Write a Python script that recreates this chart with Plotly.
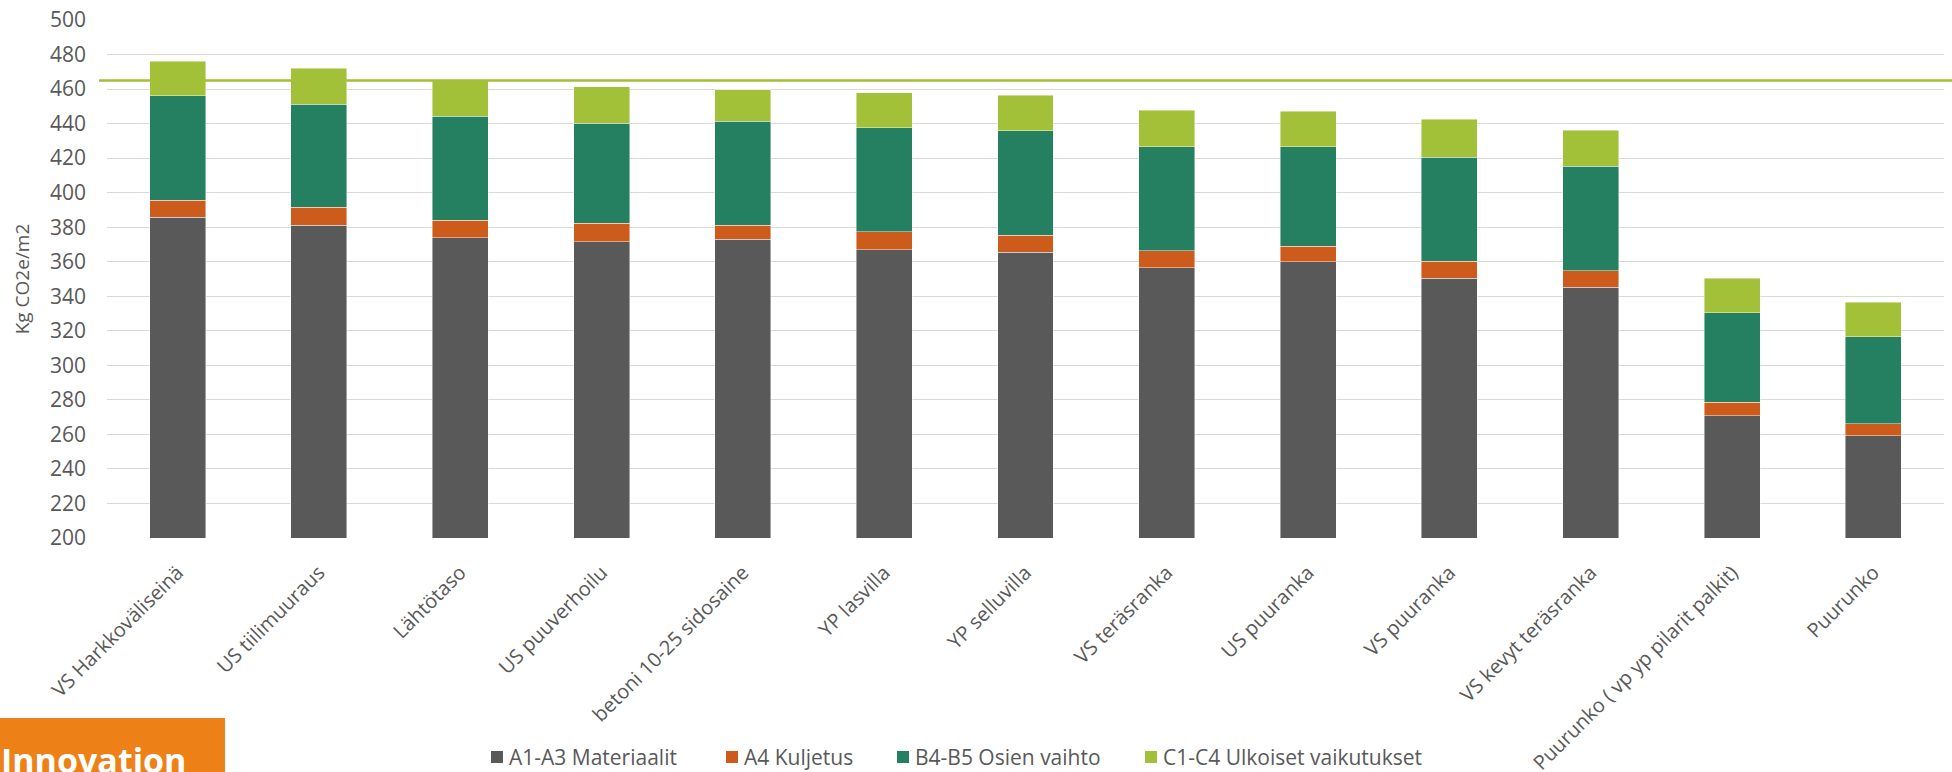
import plotly.graph_objects as go

# Rakenneratkaisujen hiilijalanjälki, kg CO2e/m2 elinkaarivaiheittain
categories = [
    "VS Harkkoväliseinä",
    "US tiilimuuraus",
    "Lähtötaso",
    "US puuverhoilu",
    "betoni 10-25 sidosaine",
    "YP lasvilla",
    "YP selluvilla",
    "VS teräsranka",
    "US puuranka",
    "VS puuranka",
    "VS kevyt teräsranka",
    "Puurunko ( vp yp pilarit palkit)",
    "Puurunko",
]
a1_a3 = [385.7, 381.2, 373.9, 371.7, 372.9, 366.9, 365.4, 356.5, 360.1, 350.3, 345.1, 270.7, 259.3]
a4 = [10.0, 10.3, 10.0, 10.5, 8.3, 10.4, 10.0, 10.0, 8.8, 9.9, 9.6, 7.9, 7.0]
b4_b5 = [60.3, 59.6, 60.5, 58.1, 60.3, 60.3, 60.5, 60.0, 57.7, 60.4, 60.5, 52.0, 50.2]
c1_c4 = [20.2, 21.1, 20.6, 20.9, 18.1, 20.3, 20.4, 21.2, 20.5, 21.8, 20.9, 19.7, 20.1]

series_names = ["A1-A3 Materiaalit", "A4 Kuljetus", "B4-B5 Osien vaihto", "C1-C4 Ulkoiset vaikutukset"]
series_values = [a1_a3, a4, b4_b5, c1_c4]
series_colors = ["#595959", "#CC5B1C", "#258061", "#A2C038"]

baseline_name = "Lähtötaso"
i_base = categories.index(baseline_name)
baseline_total = sum(v[i_base] for v in series_values)

FONT = "Open Sans"
TXT = "#595959"

W, H = 1952, 772
L, R, T, B = 107, 8, 20, 234
pw, ph = W - L - R, H - T - B


def px_x(px):
    return (px - L) / pw


def px_y(py):
    return (H - B - py) / ph


fig = go.Figure()
for name, vals, col in zip(series_names, series_values, series_colors):
    fig.add_trace(go.Bar(
        x=categories, y=vals, name=name, showlegend=False,
        marker=dict(color=col, line=dict(color="rgba(255,255,255,0.55)", width=0.8)),
    ))

# reference level: total of the baseline structure
fig.add_shape(type="line", xref="paper", yref="y",
              x0=px_x(99), x1=px_x(1952), y0=baseline_total, y1=baseline_total,
              line=dict(color="#A2C038", width=2.5), layer="above")

# legend row below the chart
legend_left = [491, 726, 897, 1145]
legend_cy = 757
for name, col, lx in zip(series_names, series_colors, legend_left):
    fig.add_shape(type="rect", xref="paper", yref="paper",
                  x0=px_x(lx), x1=px_x(lx + 12), y0=px_y(legend_cy + 6), y1=px_y(legend_cy - 6),
                  fillcolor=col, line=dict(width=0))
    fig.add_annotation(text=name, xref="paper", yref="paper",
                       x=px_x(lx + 16), y=px_y(legend_cy), xanchor="left", yanchor="middle",
                       showarrow=False, font=dict(family=FONT, size=21, color=TXT))

# corner badge
fig.add_shape(type="rect", xref="paper", yref="paper",
              x0=px_x(0), x1=px_x(225), y0=px_y(772), y1=px_y(718),
              fillcolor="#ED8117", line=dict(width=0), layer="above")
fig.add_annotation(text="<b>Innovation</b>", xref="paper", yref="paper",
                   x=px_x(-1), y=px_y(760), xanchor="left", yanchor="middle",
                   showarrow=False, font=dict(family=FONT, size=34, color="white"))

fig.update_layout(
    width=W, height=H,
    margin=dict(l=L, r=R, t=T, b=B, autoexpand=False),
    barmode="stack", bargap=0.604,
    plot_bgcolor="white", paper_bgcolor="white",
    font=dict(family=FONT, size=21, color=TXT),
    showlegend=False,
    xaxis=dict(tickangle=-45, showgrid=False, showline=False, ticks="",
               automargin=False, ticklabelstandoff=18, tickfont=dict(size=20, color=TXT)),
    yaxis=dict(range=[200, 500], dtick=20, showgrid=True, gridcolor="#D9D9D9", gridwidth=1.3,
               zeroline=False, showline=False, ticks="", automargin=False,
               ticklabelstandoff=20, tickfont=dict(size=21, color=TXT),
               title=dict(text="Kg CO2e/m2", standoff=15, font=dict(size=19, color=TXT))),
)

fig.write_html("out.html")
